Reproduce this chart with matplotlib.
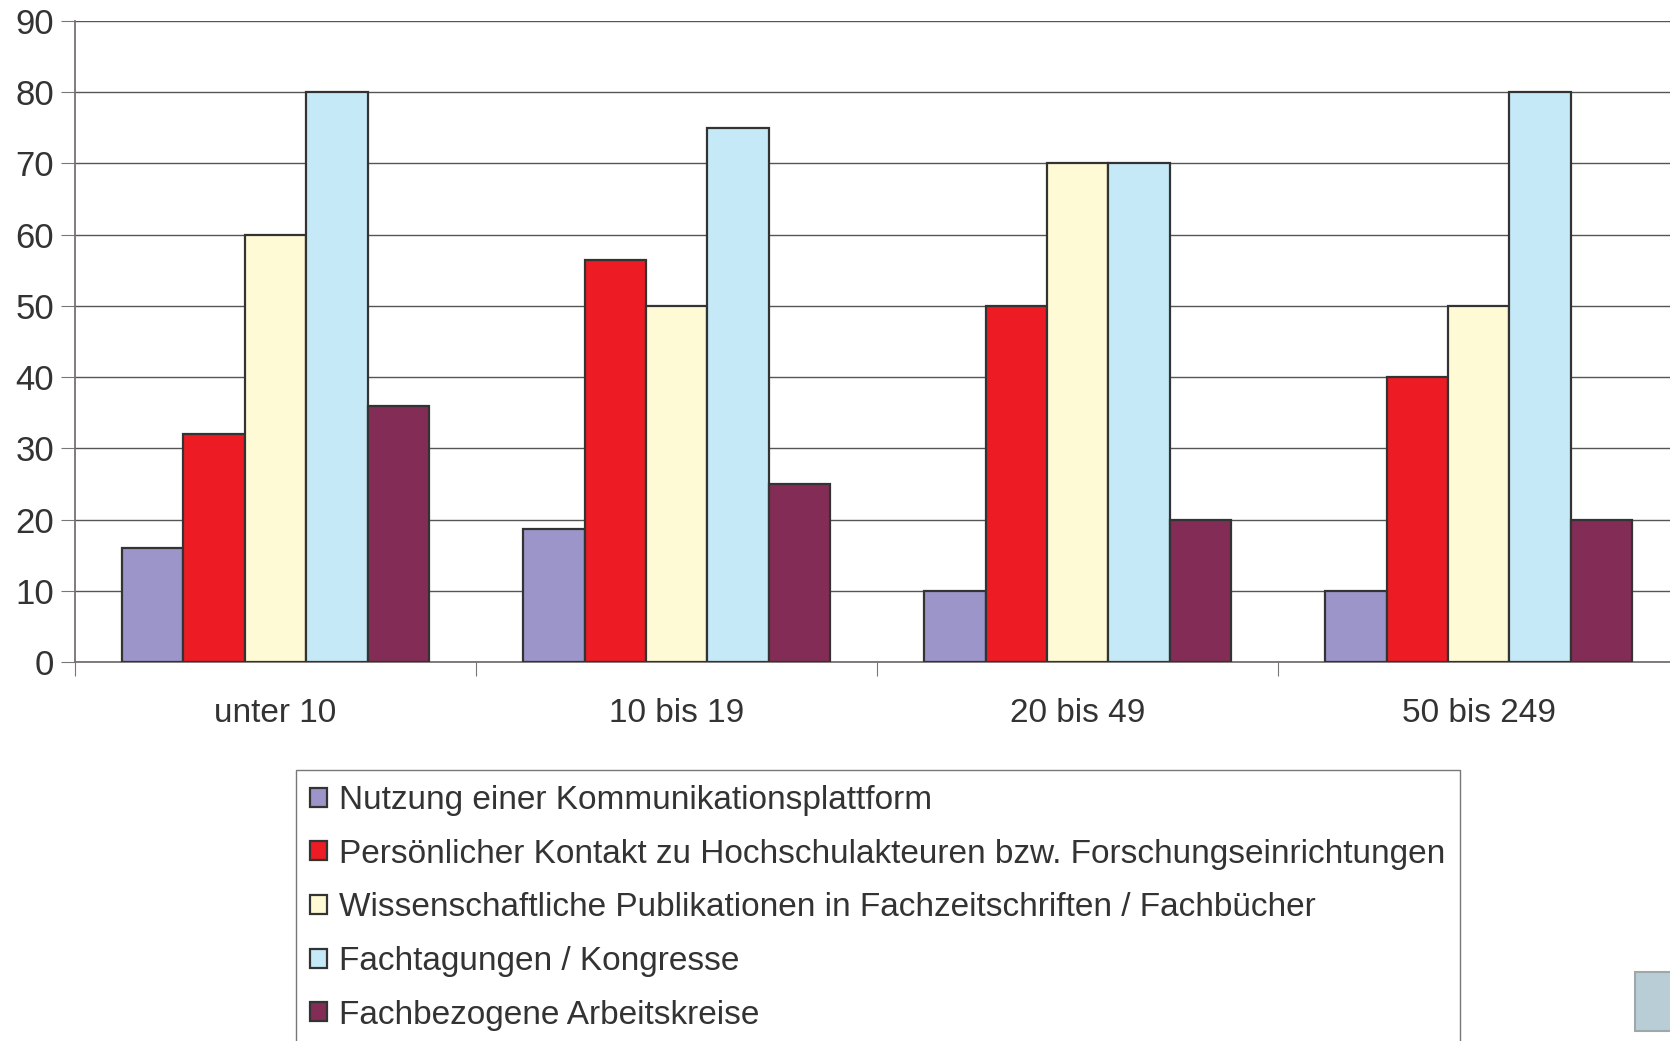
import matplotlib.pyplot as plt
import numpy as np
from matplotlib.patches import Rectangle

plt.rcParams['font.family'] = ['Liberation Sans', 'DejaVu Sans']

categories = ['unter 10', '10 bis 19', '20 bis 49', '50 bis 249']
series_names = [
    'Nutzung einer Kommunikationsplattform',
    'Persönlicher Kontakt zu Hochschulakteuren bzw. Forschungseinrichtungen',
    'Wissenschaftliche Publikationen in Fachzeitschriften / Fachbücher',
    'Fachtagungen / Kongresse',
    'Fachbezogene Arbeitskreise',
]
plattform = [16, 18.7, 10, 10]
kontakt = [32, 56.4, 50, 40]
publikationen = [60, 50, 70, 50]
tagungen = [80, 75, 70, 80]
arbeitskreise = [36, 25, 20, 20]
colors = ['#9B95C9', '#ED1C24', '#FFFAD6', '#C6E9F8', '#832C55']

values = [plattform, kontakt, publikationen, tagungen, arbeitskreise]

fig = plt.figure(figsize=(16.7, 10.41), dpi=100)
ax = fig.add_axes([0.0449, 0.364, 0.9606, 0.616])

x = np.arange(len(categories))
w = 0.153
for i, (vals, name, c) in enumerate(zip(values, series_names, colors)):
    ax.bar(x + (i - 2) * w, vals, w, color=c, edgecolor='#333333',
           linewidth=1.6, label=name, zorder=3)

ax.set_xlim(-0.5, len(categories) - 0.5)
ax.set_ylim(0, 90)
ax.set_yticks(range(0, 91, 10))
ax.yaxis.grid(True, color='#555555', linewidth=1.0, zorder=0)

# group boundaries as major ticks, labels at centres
ax.set_xticks(np.arange(len(categories)) - 0.5)
ax.set_xticklabels([])
ax.set_xticks(x, minor=True)
ax.set_xticklabels(categories, minor=True)
ax.tick_params(axis='x', which='major', length=10, color='#777777', direction='out')
ax.tick_params(axis='x', which='minor', length=0, pad=26, labelsize=24, labelcolor='#333333')
ax.tick_params(axis='y', length=10, color='#777777', labelsize=25, labelcolor='#333333', pad=5)

for s in ['top', 'right']:
    ax.spines[s].set_visible(False)
ax.spines['left'].set_color('#7a6f6f')
ax.spines['bottom'].set_color('#7a6f6f')
ax.spines['left'].set_linewidth(1.3)
ax.spines['bottom'].set_linewidth(1.3)

leg = fig.legend(loc='upper left', bbox_to_anchor=(0.177, 0.260), fontsize=24,
                 frameon=True, fancybox=False, edgecolor='#555555',
                 handlelength=0.5, handleheight=0.5, handletextpad=0.35,
                 labelspacing=0.68, borderpad=0.44, borderaxespad=0)
leg.get_frame().set_linewidth(1.0)
for t in leg.get_texts():
    t.set_color('#333333')

# small grey box in the lower right corner
fig.patches.append(Rectangle((0.979, 0.01), 0.03, 0.056, transform=fig.transFigure,
                             facecolor='#B8CDD6', edgecolor='#9fa7ab', linewidth=1.5))

fig.savefig('out.png', dpi=100)
